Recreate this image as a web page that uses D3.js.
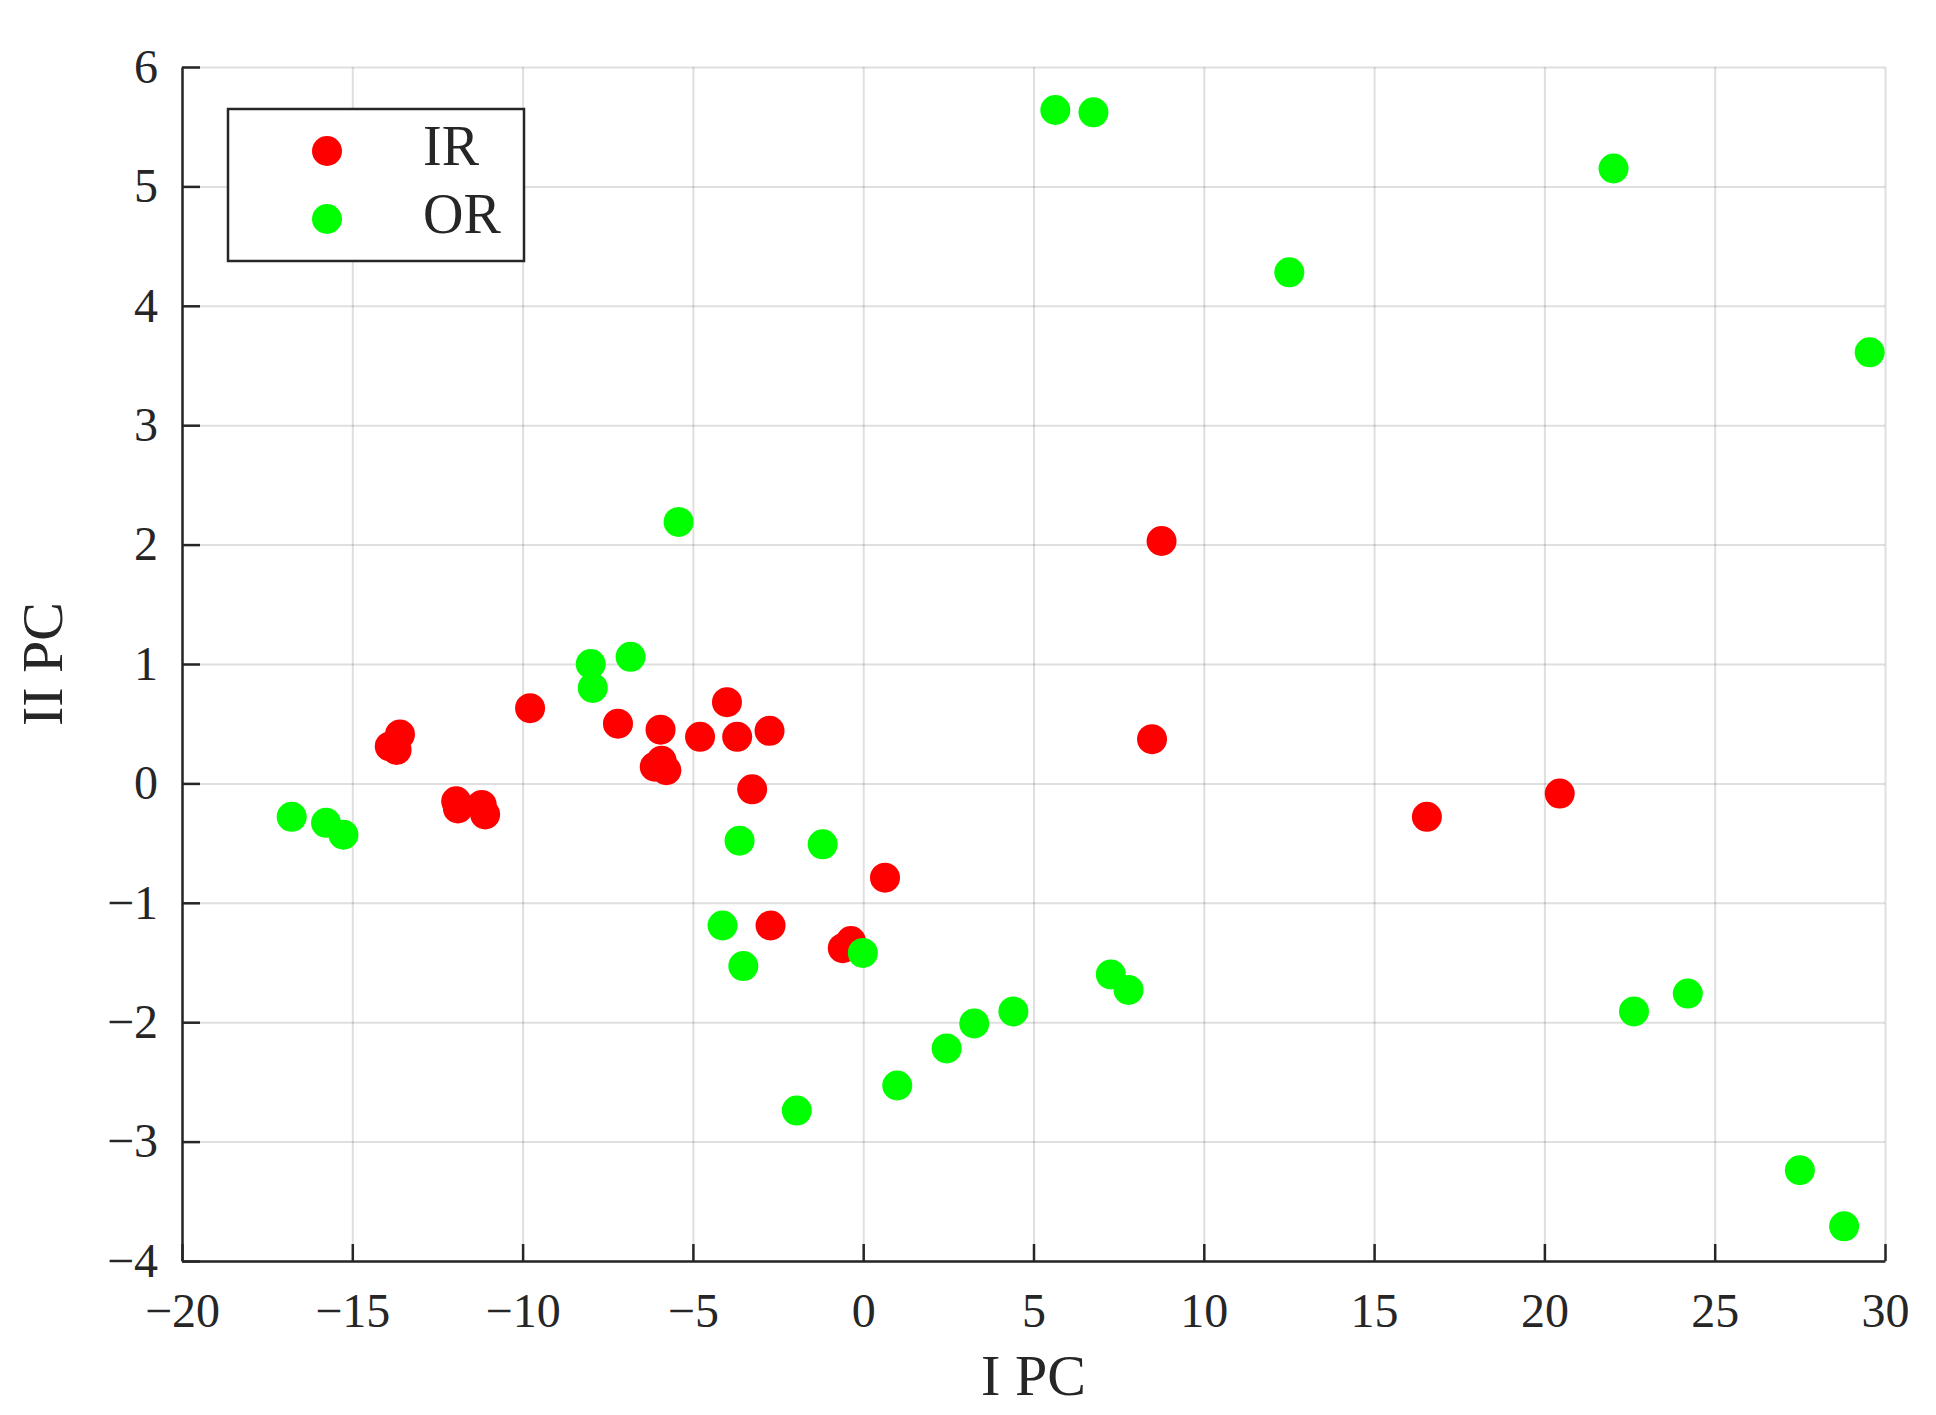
<!DOCTYPE html>
<html>
<head>
<meta charset="utf-8">
<script src="https://cdn.jsdelivr.net/npm/d3@7"></script>
<style>
  body { margin: 0; background: #ffffff; }
  svg text { font-family: "Liberation Serif", "DejaVu Serif", serif; fill: #262626; }
  .grid line { stroke: #262626; stroke-opacity: 0.15; stroke-width: 2; }
  .grid path { display: none; }
  .axis path, .axis line { stroke: #262626; stroke-width: 2.5; }
</style>
</head>
<body>
<div class="chart"></div>
<script>

// Scores on the first two principal components
var irX = [-13.9, -13.6, -13.7, -11.95, -11.9, -11.2, -11.1, -9.78, -7.2, -5.95,
           -6.12, -5.92, -5.78, -4.79, -4.0, -3.7, -2.75, -3.26, 0.64, -2.72,
           -0.36, -0.6, 8.76, 8.48, 16.55, 20.45];
var irY = [0.31, 0.41, 0.28, -0.15, -0.21, -0.18, -0.26, 0.63, 0.5, 0.45,
           0.14, 0.19, 0.11, 0.39, 0.68, 0.39, 0.44, -0.05, -0.79, -1.19,
           -1.32, -1.38, 2.03, 0.37, -0.28, -0.085];

var orX = [-16.78, -15.77, -15.26, -8.0, -7.94, -6.83, -5.42, -3.63, -1.19, -4.13,
           -3.52, -0.01, -1.95, 1.0, 2.45, 3.26, 4.41, 7.27, 7.79, 5.64,
           6.76, 12.51, 22.03, 29.55, 22.63, 24.21, 27.5, 28.8];
var orY = [-0.28, -0.33, -0.43, 1.0, 0.8, 1.06, 2.19, -0.48, -0.51, -1.19,
           -1.53, -1.42, -2.74, -2.53, -2.22, -2.01, -1.91, -1.6, -1.73, 5.64,
           5.62, 4.28, 5.15, 3.61, -1.91, -1.76, -3.24, -3.71];

var seriesNames = ["IR", "OR"];
var seriesColors = ["#ff0000", "#00ff00"];

var xTicks = [-20, -15, -10, -5, 0, 5, 10, 15, 20, 25, 30];
var yTicks = [-4, -3, -2, -1, 0, 1, 2, 3, 4, 5, 6];

var xLabel = "I PC";
var yLabel = "II PC";

// Dimensions
var w = 1936, h = 1415;
var margin = {top: 67, right: 51, bottom: 154, left: 182};
var width = w - margin.left - margin.right;
var height = h - margin.top - margin.bottom;
var dotRadius = 15;

var svg = d3.select(".chart")
  .append("svg")
  .attr("width", w)
  .attr("height", h);

var g = svg.append("g")
  .attr("transform", "translate(" + margin.left + "," + margin.top + ")");

var x = d3.scaleLinear().domain([-20, 30]).range([0, width]);
var y = d3.scaleLinear().domain([-4, 6]).range([height, 0]);

// Grid lines
g.append("g")
  .attr("class", "grid")
  .attr("transform", "translate(0," + height + ")")
  .call(d3.axisBottom(x).tickValues(xTicks).tickSize(-height).tickFormat(""));

g.append("g")
  .attr("class", "grid")
  .call(d3.axisLeft(y).tickValues(yTicks).tickSize(-width).tickFormat(""));

// Points: IR first, OR drawn over it
var irData = irX.map(function(v, i) { return {x: v, y: irY[i]}; });
var orData = orX.map(function(v, i) { return {x: v, y: orY[i]}; });

[irData, orData].forEach(function(data, k) {
    g.append("g")
      .selectAll("circle")
      .data(data)
      .enter()
      .append("circle")
      .attr("cx", function(d) { return x(d.x); })
      .attr("cy", function(d) { return y(d.y); })
      .attr("r", dotRadius)
      .style("fill", seriesColors[k]);
});

// Axes with inward ticks
var xAxis = g.append("g")
  .attr("class", "axis")
  .attr("transform", "translate(0," + height + ")")
  .call(d3.axisBottom(x).tickValues(xTicks).tickSizeInner(-17).tickSizeOuter(0).tickPadding(32));

var yAxis = g.append("g")
  .attr("class", "axis")
  .call(d3.axisLeft(y).tickValues(yTicks).tickSizeInner(-18).tickSizeOuter(0).tickPadding(24));

svg.selectAll(".axis text")
  .style("font-size", "48px")
  .style("font-family", "'Liberation Serif', serif")
  .attr("fill", "#262626");

// Axis titles
svg.append("text")
  .attr("x", margin.left + width / 2)
  .attr("y", 1395)
  .attr("text-anchor", "middle")
  .style("font-size", "58px")
  .text(xLabel);

svg.append("text")
  .attr("transform", "translate(62," + (margin.top + height / 2) + ") rotate(-90)")
  .attr("text-anchor", "middle")
  .style("font-size", "58px")
  .text(yLabel);

// Legend
var legend = svg.append("g");

legend.append("rect")
  .attr("x", 228)
  .attr("y", 109)
  .attr("width", 296)
  .attr("height", 152)
  .style("fill", "#ffffff")
  .style("stroke", "#262626")
  .style("stroke-width", 2.5);

seriesNames.forEach(function(name, i) {
    legend.append("circle")
      .attr("cx", 327)
      .attr("cy", 151 + i * 68)
      .attr("r", dotRadius)
      .style("fill", seriesColors[i]);

    legend.append("text")
      .attr("x", 423)
      .attr("y", 165 + i * 68)
      .style("font-size", "56px")
      .text(name);
});

</script>
</body>
</html>
